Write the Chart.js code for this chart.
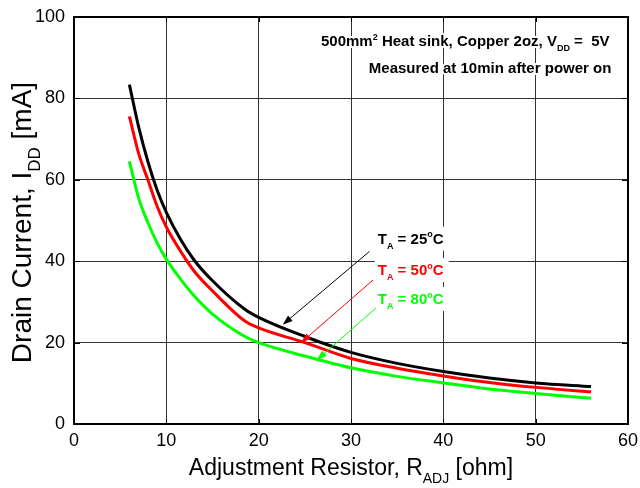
<!DOCTYPE html>
<html>
<head>
<meta charset="utf-8">
<script src="https://cdn.jsdelivr.net/npm/chart.js@4.4.1/dist/chart.umd.min.js"></script>
<style>
  html, body { margin: 0; padding: 0; background: #fff; }
</style>
</head>
<body>
<canvas id="currentChart" width="640" height="488"></canvas>
<script>
  // adjustment resistor [ohm] and drain current [mA]
  const resistance = [6, 7, 8, 9, 10, 11.5, 13, 15, 18.5, 20, 25, 30, 35, 40, 45, 50, 56];
  const current25 = [83.4, 73, 64.5, 57.5, 52, 45.5, 40.3, 35.2, 28.2, 26.2, 21.5, 17.6, 14.9, 12.9, 11.3, 10.1, 9.2];
  const current50 = [75.6, 66.5, 60, 53.5, 48.4, 42.6, 37.6, 32.7, 25.3, 23.6, 20, 16.1, 13.7, 11.8, 10.2, 9.0, 7.9];
  const current80 = [64.5, 55.5, 49.5, 44.5, 40.5, 35.7, 31.5, 27, 21.5, 20, 16.7, 13.8, 11.7, 10.1, 8.6, 7.5, 6.3];
  const temps = ["25", "50", "80"];
  const xTicks = [0, 10, 20, 30, 40, 50, 60];
  const yTicks = [0, 20, 40, 60, 80, 100];

  const colors = ["#000000", "#ff0000", "#00ff00"];
  const FONT = '"Liberation Sans", Arial, sans-serif';

  // label anchors and arrows in data units
  const labelPos = [[32.9, 44.3], [32.9, 36.6], [32.9, 29.5]];
  const arrows = [
    [[32.0, 42.4], [22.6, 24.4]],
    [[32.4, 35.4], [24.6, 20.0]],
    [[32.7, 28.5], [26.3, 15.7]],
  ];

  // parts: [text, mode] with mode 0 normal, 1 subscript, 2 superscript
  function drawRich(ctx, parts, x, y, size, weight, align, halo) {
    const base = weight + " " + size + "px " + FONT;
    const small = weight + " " + Math.round(size * 0.62) + "px " + FONT;
    let w = 0;
    parts.forEach((p) => {
      ctx.font = p[1] ? small : base;
      w += ctx.measureText(p[0]).width;
    });
    let cx = align === "right" ? x - w : align === "center" ? x - w / 2 : x;
    ctx.textAlign = "left";
    ctx.textBaseline = "alphabetic";
    parts.forEach((p) => {
      ctx.font = p[1] ? small : base;
      const dy = p[1] === 1 ? size * 0.33 : p[1] === 2 ? -size * 0.42 : 0;
      if (halo) {
        ctx.save();
        ctx.strokeStyle = "#fff";
        ctx.lineWidth = 4;
        ctx.lineJoin = "round";
        ctx.strokeText(p[0], cx, y + dy);
        ctx.restore();
      }
      ctx.fillText(p[0], cx, y + dy);
      cx += ctx.measureText(p[0]).width;
    });
    return w;
  }

  const decorPlugin = {
    id: "decor",
    beforeDatasetsDraw(chart) {
      const { ctx, scales } = chart;
      const xs = scales.x, ys = scales.y;
      ctx.save();
      // temperature labels on white boxes
      temps.forEach((t, i) => {
        const px = xs.getPixelForValue(labelPos[i][0]);
        const py = ys.getPixelForValue(labelPos[i][1]);
        ctx.fillStyle = "#fff";
        ctx.fillRect(px - 3, py - 17, 74, 24);
      });
      temps.forEach((t, i) => {
        const px = xs.getPixelForValue(labelPos[i][0]);
        const py = ys.getPixelForValue(labelPos[i][1]);
        ctx.fillStyle = colors[i];
        drawRich(ctx, [["T", 0], ["A", 1], [" = " + t, 0], ["o", 2], ["C", 0]], px, py, 15, "bold", "left");
      });
      // note in the top right corner
      ctx.fillStyle = "#000";
      drawRich(ctx, [["500mm", 0], ["2", 2], [" Heat sink, Copper 2oz, V", 0], ["DD", 1], [" =  5V", 0]],
        xs.getPixelForValue(58), ys.getPixelForValue(92.8), 15, "bold", "right", true);
      drawRich(ctx, [["Measured at 10min after power on", 0]],
        xs.getPixelForValue(58.2), ys.getPixelForValue(86.2), 15, "bold", "right", true);
      ctx.restore();
    },
    afterDatasetsDraw(chart) {
      const { ctx, scales, chartArea } = chart;
      const xs = scales.x, ys = scales.y;
      ctx.save();
      // arrows
      arrows.forEach((a, i) => {
        const x1 = xs.getPixelForValue(a[0][0]), y1 = ys.getPixelForValue(a[0][1]);
        const x2 = xs.getPixelForValue(a[1][0]), y2 = ys.getPixelForValue(a[1][1]);
        const ang = Math.atan2(y2 - y1, x2 - x1);
        ctx.strokeStyle = colors[i];
        ctx.fillStyle = colors[i];
        ctx.lineWidth = 1;
        ctx.beginPath();
        ctx.moveTo(x1, y1);
        ctx.lineTo(x2 - 6 * Math.cos(ang), y2 - 6 * Math.sin(ang));
        ctx.stroke();
        ctx.beginPath();
        ctx.moveTo(x2, y2);
        ctx.lineTo(x2 - 10 * Math.cos(ang) + 3.5 * Math.sin(ang), y2 - 10 * Math.sin(ang) - 3.5 * Math.cos(ang));
        ctx.lineTo(x2 - 10 * Math.cos(ang) - 3.5 * Math.sin(ang), y2 - 10 * Math.sin(ang) + 3.5 * Math.cos(ang));
        ctx.closePath();
        ctx.fill();
      });
      // frame and inward ticks
      ctx.strokeStyle = "#000";
      ctx.lineWidth = 1;
      xTicks.forEach((v) => {
        const px = Math.round(xs.getPixelForValue(v)) + 0.5;
        ctx.beginPath();
        ctx.moveTo(px, chartArea.top); ctx.lineTo(px, chartArea.top + 5);
        ctx.moveTo(px, chartArea.bottom); ctx.lineTo(px, chartArea.bottom - 5);
        ctx.stroke();
      });
      yTicks.forEach((v) => {
        const py = Math.round(ys.getPixelForValue(v)) + 0.5;
        ctx.beginPath();
        ctx.moveTo(chartArea.left, py); ctx.lineTo(chartArea.left + 6, py);
        ctx.moveTo(chartArea.right, py); ctx.lineTo(chartArea.right - 6, py);
        ctx.stroke();
      });
      ctx.lineWidth = 2;
      ctx.strokeRect(chartArea.left, chartArea.top, chartArea.right - chartArea.left, chartArea.bottom - chartArea.top);
      // axis titles
      ctx.fillStyle = "#000";
      drawRich(ctx, [["Adjustment Resistor, R", 0], ["ADJ", 1], [" [ohm]", 0]],
        (chartArea.left + chartArea.right) / 2, chartArea.bottom + 51, 23, "normal", "center");
      ctx.translate(31, (chartArea.top + chartArea.bottom) / 2 + 2);
      ctx.rotate(-Math.PI / 2);
      drawRich(ctx, [["Drain Current, I", 0], ["DD", 1], [" [mA]", 0]], 0, 0, 28, "normal", "center");
      ctx.restore();
    },
  };

  new Chart(document.getElementById("currentChart").getContext("2d"), {
    type: "line",
    data: {
      datasets: temps.map((t, i) => ({
        label: "TA = " + t + "°C",
        data: resistance.map((r, k) => ({ x: r, y: [current25, current50, current80][i][k] })),
        borderColor: colors[i],
        borderWidth: 3,
        pointRadius: 0,
        fill: false,
        cubicInterpolationMode: "monotone",
      })),
    },
    options: {
      responsive: false,
      animation: false,
      layout: { padding: { top: 17, right: 12, left: 0, bottom: 0 } },
      plugins: { legend: { display: false }, tooltip: { enabled: false } },
      scales: {
        x: {
          type: "linear",
          min: 0,
          max: 60,
          afterBuildTicks: (s) => { s.ticks = xTicks.map((v) => ({ value: v })); },
          afterFit: (s) => { s.height = 64; s.paddingLeft = 0; s.paddingRight = 0; },
          ticks: { color: "#000", font: { family: FONT, size: 18 }, padding: 6, maxRotation: 0 },
          grid: { color: "#333", drawTicks: false },
          border: { display: false },
        },
        y: {
          min: 0,
          max: 100,
          afterBuildTicks: (s) => { s.ticks = yTicks.map((v) => ({ value: v })); },
          afterFit: (s) => { s.width = 74; s.paddingTop = 0; s.paddingBottom = 0; },
          ticks: { color: "#000", font: { family: FONT, size: 18 }, padding: 9 },
          grid: { color: "#333", drawTicks: false },
          border: { display: false },
        },
      },
    },
    plugins: [decorPlugin],
  });
</script>
</body>
</html>
